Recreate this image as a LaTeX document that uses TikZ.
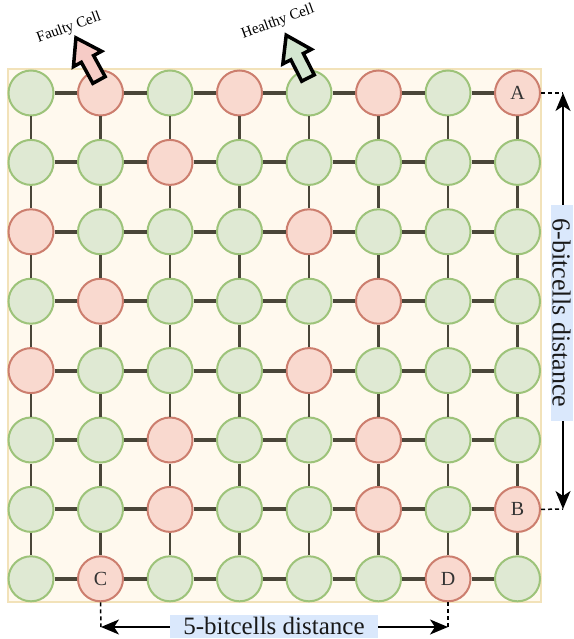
\documentclass[tikz,border=0pt]{standalone}
\usepackage{fontspec}
\setmainfont{Liberation Serif}
\usetikzlibrary{arrows.meta}
\definecolor{bgfill}{HTML}{FFF9EE}
\definecolor{bgline}{HTML}{F2E2B9}
\definecolor{gfill}{HTML}{DFE9D3}
\definecolor{gline}{HTML}{9DC37A}
\definecolor{rfill}{HTML}{F9D9CF}
\definecolor{rline}{HTML}{CC7E6E}
\definecolor{wire}{HTML}{4A4639}
\definecolor{lblblue}{HTML}{DAE8FC}
\definecolor{celltxt}{HTML}{333333}
\definecolor{arrred}{HTML}{F6CBC6}
\definecolor{arrgreen}{HTML}{D3E6D0}
\tikzset{
  cellbase/.style={circle, minimum size=45pt, inner sep=0pt, line width=2pt,
     text=celltxt, font=\fontsize{20}{22}\selectfont},
  goodcell/.style={cellbase, fill=gfill, draw=gline},
  badcell/.style={cellbase, fill=rfill, draw=rline},
  hwire/.style={draw=wire, line width=4pt},
  vwire/.style={draw=wire, line width=2.5pt},
  dimline/.style={line width=2pt, {Stealth[length=18pt,width=15pt,inset=5pt]}-{Stealth[length=18pt,width=15pt,inset=5pt]}},
  guide/.style={line width=1.5pt, dash pattern=on 4pt off 3pt},
  lblbox/.style={fill=lblblue, inner sep=0pt, text=black!90},
  blockarr/.style={draw=black, line width=3.5pt, line join=miter},
  toplbl/.style={font=\fontsize{15}{17}\selectfont, text=black}
}
\begin{document}
\begin{tikzpicture}[x=1pt,y=-1pt]
\useasboundingbox (0,0) rectangle (573,639);
\fill[white] (0,0) rectangle (573,639);
\draw[fill=bgfill, draw=bgline, line width=1.5pt] (8,69) rectangle (541,602);
% faulty cells
\foreach \rc in {0-1,0-3,0-5,0-7,1-2,2-0,2-4,3-1,3-5,4-0,4-4,5-2,5-5,6-2,6-5,6-7,7-1,7-6}
  {\expandafter\gdef\csname red\rc\endcsname{}}
\expandafter\gdef\csname txt0-7\endcsname{A}
\expandafter\gdef\csname txt6-7\endcsname{B}
\expandafter\gdef\csname txt7-1\endcsname{C}
\expandafter\gdef\csname txt7-6\endcsname{D}
\foreach \row in {0,...,7}{
  \foreach \col in {0,...,7}{
    \ifcsname red\row-\col\endcsname
      \node[badcell] (c\row\col) at ({31+69.5*\col},{93+69.4*\row}) {\csname txt\row-\col\endcsname};
    \else
      \node[goodcell] (c\row\col) at ({31+69.5*\col},{93+69.4*\row}) {};
    \fi
  }
}
% wires
\foreach \row in {0,...,7}{
  \foreach \col [evaluate=\col as \nxt using int(\col+1)] in {0,...,6}{
    \draw[hwire] (c\row\col) -- (c\row\nxt);
  }
}
\foreach \row [evaluate=\row as \nxt using int(\row+1)] in {0,...,6}{
  \foreach \col in {0,...,7}{
    \draw[vwire] (c\row\col) -- (c\nxt\col);
  }
}
% block arrows
\begin{scope}[shift={(99,80)}, rotate=118.7]
  \draw[blockarr, fill=arrred] (0,-7) -- (24,-7) -- (24,-16) -- (48,0) -- (24,16) -- (24,7) -- (0,7) -- cycle;
\end{scope}
\begin{scope}[shift={(308,78)}, rotate=117]
  \draw[blockarr, fill=arrgreen] (0,-7) -- (24,-7) -- (24,-16) -- (48,0) -- (24,16) -- (24,7) -- (0,7) -- cycle;
\end{scope}
\node[toplbl, rotate=20] (flbl) at (69,28) {Faulty Cell};
\node[toplbl, rotate=20] (hlbl) at (278,22) {Healthy Cell};
% right dimension
\draw[guide] (c07.east) -- (563,93) coordinate (ra);
\draw[guide] (c67.east) -- (563,509) coordinate (rb);
\draw[dimline] (ra) -- (rb);
\node[lblbox, rotate=-90, minimum width=216pt, minimum height=22pt,
      font=\fontsize{26}{28}\selectfont] (rlbl) at (561.5,313) {6-bitcells distance};
% bottom dimension
\draw[guide] (c71.south) -- (101,627) coordinate (ba);
\draw[guide] (c76.south) -- (448,627) coordinate (bb);
\draw[dimline] (ba) -- (bb);
\node[lblbox, minimum width=208pt, minimum height=23pt,
      font=\fontsize{25}{27}\selectfont] (blbl) at (274,626) {5-bitcells distance};
\end{tikzpicture}
\end{document}
